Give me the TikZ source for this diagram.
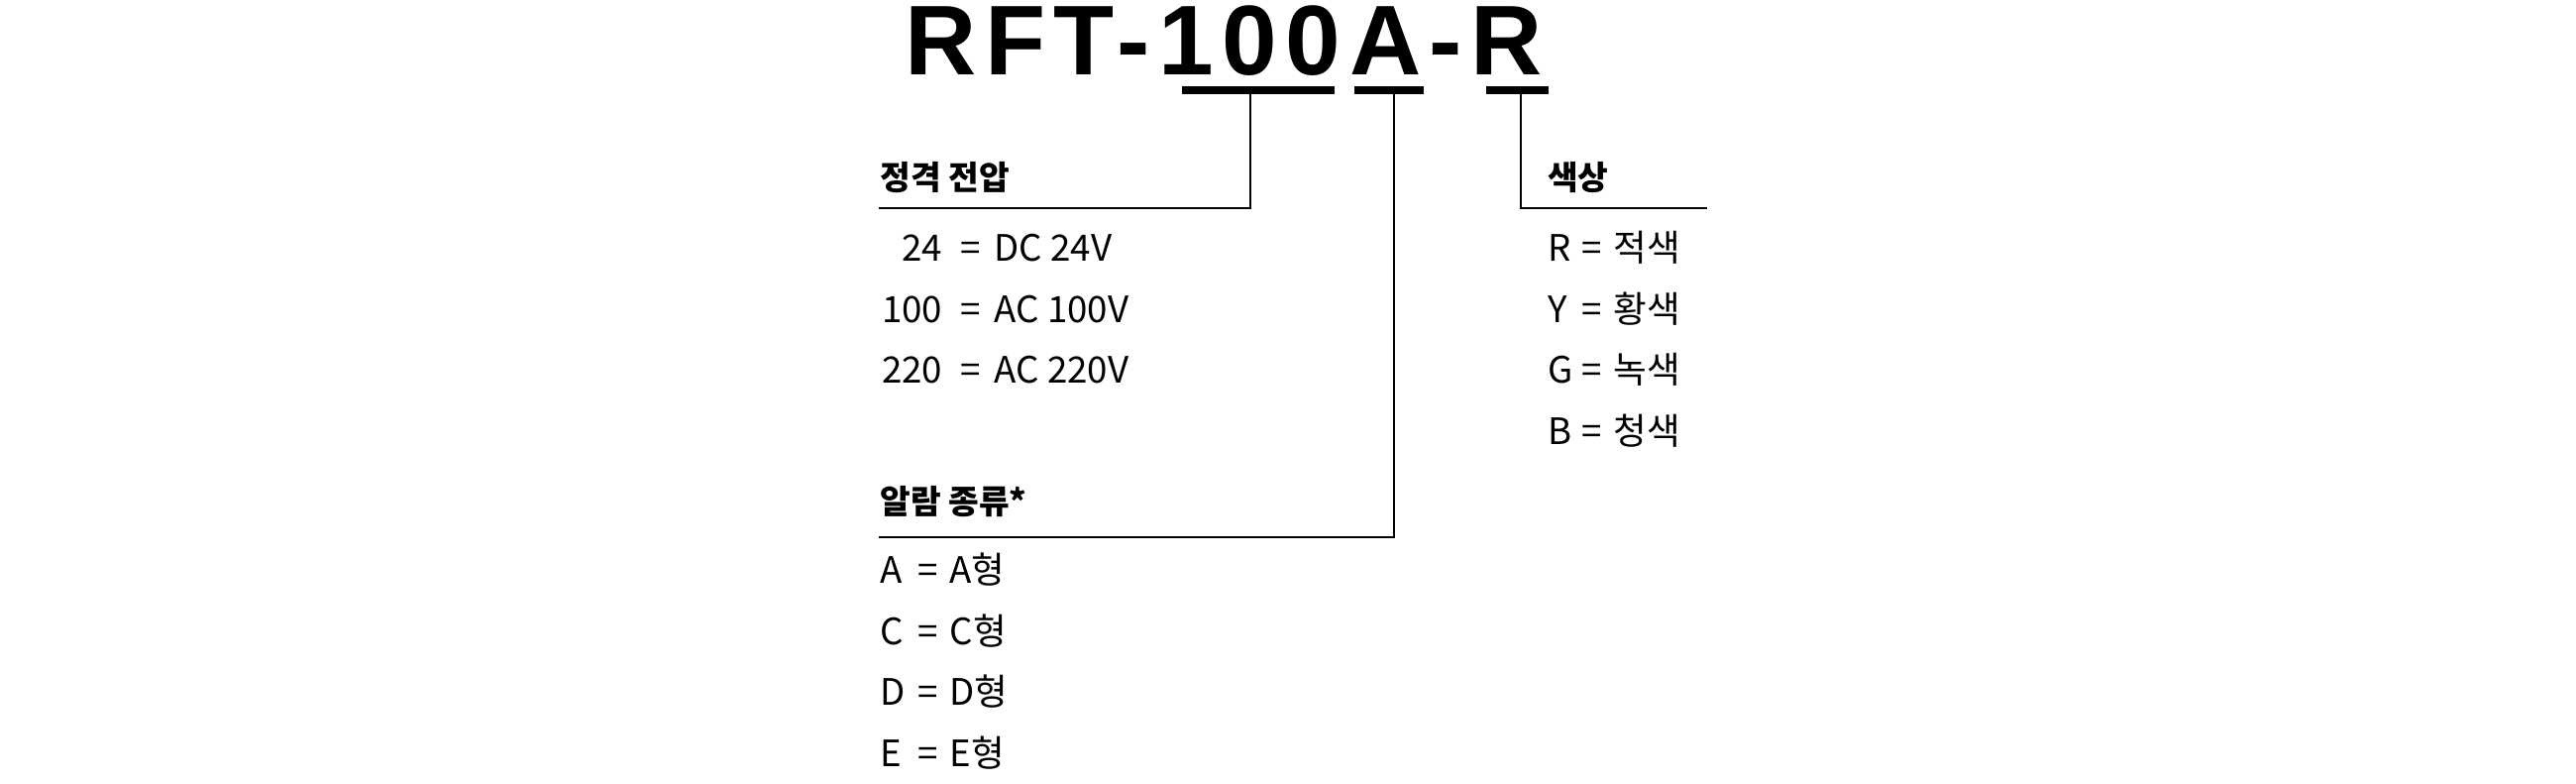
\documentclass[tikz,border=0pt]{standalone}
\usepackage{fontspec}
\setmainfont{Noto Sans CJK KR}
\newfontfamily\titlefont[LetterSpace=8.5]{Liberation Sans}
\begin{document}
\begin{tikzpicture}[x=1pt,y=-1pt,
    lead/.style={line width=1.2pt},
    bar/.style={fill=black, inner sep=0pt, minimum height=5pt},
    head/.style={anchor=base west, inner sep=0pt, font=\fontsize{20}{24}\selectfont\bfseries},
    txt/.style={inner sep=0pt, font=\fontsize{22}{26}\selectfont}]
    \useasboundingbox (0,0) rectangle (1560,474);
    % Model code
    \node[anchor=base west, inner sep=0pt, font=\titlefont\fontsize{60}{60}\selectfont\bfseries] (code) at (548,45) {RFT-100A-R};
    % Bars under the code parts
    \node[bar, minimum width=92pt] (volt) at (762,54.5) {};
    \node[bar, minimum width=42pt] (alarm) at (841,54.5) {};
    \node[bar, minimum width=38pt] (colour) at (919,54.5) {};
    % Headings
    \node[head] (volthead) at (533,115) {정격 전압};
    \node[head] (alarmhead) at (533,311) {알람 종류*};
    \node[head] (colourhead) at (937,115) {색상};
    \coordinate (voltend) at (532,126);
    \coordinate (alarmend) at (532,325);
    \coordinate (colourend) at (1034,126);
    % Leader lines
    \draw[lead] ([xshift=-5pt]volt.south) |- (voltend);
    \draw[lead] ([xshift=3pt]alarm.south) |- (alarmend);
    \draw[lead] ([xshift=2pt]colour.south) |- (colourend);
    % Rated voltage
    \foreach \k/\v [count=\i] in {24/DC 24V,100/AC 100V,220/AC 220V} {
        \node[txt, anchor=base east] (vk\i) at (571,121+37*\i) {\k};
        \node[txt, anchor=base] (ve\i) at (588,121+37*\i) {=};
        \node[txt, anchor=base west] (vv\i) at (602,121+37*\i) {\v};
    }
    % Colour
    \foreach \k/\v [count=\i] in {R/적색,Y/황색,G/녹색,B/청색} {
        \node[txt, anchor=base west] (ck\i) at (937,121+37*\i) {\k};
        \node[txt, anchor=base] (ce\i) at (964,121+37*\i) {=};
        \node[txt, anchor=base west] (cv\i) at (977,121+37*\i) {\v};
    }
    % Alarm type
    \foreach \k [count=\i] in {A,C,D,E} {
        \node[txt, anchor=base west] (ak\i) at (533,316+37*\i) {\k};
        \node[txt, anchor=base] (ae\i) at (562,316+37*\i) {=};
        \node[txt, anchor=base west] (av\i) at (575,316+37*\i) {{\k}형};
    }
\end{tikzpicture}
\end{document}
